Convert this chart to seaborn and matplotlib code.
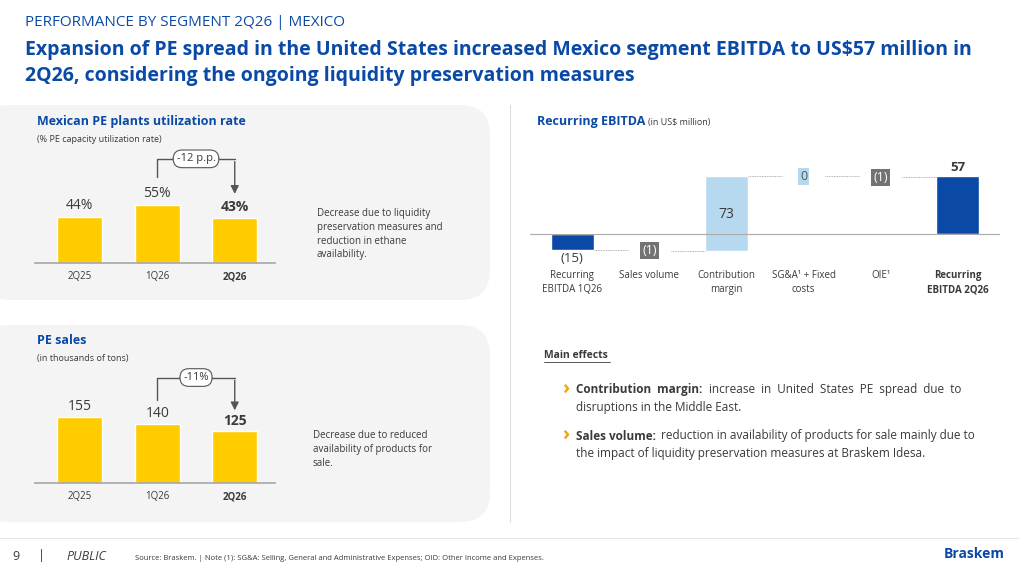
import matplotlib
matplotlib.use("Agg")
import matplotlib.pyplot as plt
import seaborn as sns
import pandas as pd
from matplotlib.patches import FancyBboxPatch

util_periods = ["2Q25", "1Q26", "2Q26"]
util_values = [44, 55, 43]
sales_periods = ["2Q25", "1Q26", "2Q26"]
sales_values = [155, 140, 125]
wf_labels = ["Recurring\nEBITDA 1Q26", "Sales volume", "Contribution\nmargin", "SG&A¹ + Fixed\ncosts", "OIE¹", "Recurring\nEBITDA 2Q26"]
wf_values = [-15, -1, 73, 0, -1, 57]

sns.set_theme(style="white")
plt.rcParams['font.family'] = ['Open Sans', 'DejaVu Sans']
W, H = 1019, 573
fig = plt.figure(figsize=(W/100, H/100), dpi=100)
fig.patch.set_facecolor("white")

def ax_px(x0, y0, x1, y1):
    return fig.add_axes([x0/W, 1-y1/H, (x1-x0)/W, (y1-y0)/H])

bg = fig.add_axes([0, 0, 1, 1]); bg.set_xlim(0, W); bg.set_ylim(H, 0); bg.axis("off")
for (y0, y1) in [(105, 300), (325, 522)]:
    bg.add_patch(FancyBboxPatch((-20, y0), 510, y1-y0, boxstyle="round,pad=0,rounding_size=30",
                                fc="#f4f4f4", ec="none"))
bg.plot([510, 510], [105, 522], color="#dddddd", lw=0.8)
bg.plot([0, W], [538, 538], color="#e0e0e0", lw=0.6)

BLUE = "#0a4aa6"; TXT = "#3a3a3a"
bg.text(25, 22, "PERFORMANCE BY SEGMENT 2Q26 | MEXICO", fontsize=11, color=BLUE, va="center")
bg.text(25, 50, "Expansion of PE spread in the United States increased Mexico segment EBITDA to US$57 million in", fontsize=14, color=BLUE, weight="bold", va="center")
bg.text(25, 76, "2Q26, considering the ongoing liquidity preservation measures", fontsize=14, color=BLUE, weight="bold", va="center")

bg.text(37, 121, "Mexican PE plants utilization rate", fontsize=9, color=BLUE, weight="bold", va="center")
bg.text(37, 139, "(% PE capacity utilization rate)", fontsize=6.5, color=TXT, va="center")
bg.text(317, 208, "Decrease due to liquidity\npreservation measures and\nreduction in ethane\navailability.", fontsize=7, color=TXT, va="top", linespacing=1.35)
bg.text(37, 341, "PE sales", fontsize=9, color=BLUE, weight="bold", va="center")
bg.text(37, 358, "(in thousands of tons)", fontsize=6.5, color=TXT, va="center")
bg.text(313, 430, "Decrease due to reduced\navailability of products for\nsale.", fontsize=7, color=TXT, va="top", linespacing=1.35)

bg.text(537, 121, "Recurring EBITDA", fontsize=9, color=BLUE, weight="bold", va="center")
bg.text(648, 122, "(in US$ million)", fontsize=6.5, color=TXT, va="center")
bg.text(544, 355, "Main effects", fontsize=7.5, color=TXT, weight="bold", va="center")
bg.plot([544, 610], [362, 362], color=TXT, lw=0.6)
bg.text(562, 390, "›", fontsize=14, color="#f5a400", weight="bold", va="center")
bg.text(576, 390, "Contribution  margin:", fontsize=8.5, color=TXT, weight="bold", va="center")
bg.text(709, 390, "increase  in  United  States  PE  spread  due  to", fontsize=8.5, color=TXT, va="center")
bg.text(576, 407, "disruptions in the Middle East.", fontsize=8.5, color=TXT, va="center")
bg.text(562, 436, "›", fontsize=14, color="#f5a400", weight="bold", va="center")
bg.text(576, 436, "Sales volume:", fontsize=8.5, color=TXT, weight="bold", va="center")
bg.text(661, 436, "reduction in availability of products for sale mainly due to", fontsize=8.5, color=TXT, va="center")
bg.text(576, 453, "the impact of liquidity preservation measures at Braskem Idesa.", fontsize=8.5, color=TXT, va="center")

bg.text(12, 556, "9", fontsize=9, color=TXT, va="center")
bg.text(38, 556, "|", fontsize=9, color=TXT, va="center")
bg.text(66, 556, "PUBLIC", fontsize=9, color=TXT, va="center", style="italic")
bg.text(135, 558, "Source: Braskem. | Note (1): SG&A: Selling, General and Administrative Expenses; OID: Other Income and Expenses.", fontsize=5.5, color=TXT, va="center")
bg.text(1005, 554, "Braskem", fontsize=10, color=BLUE, weight="bold", va="center", ha="right")

YEL = "#ffcc00"
def small_bar(ax, cats, vals, ylow, yhigh, fmt, arrow_lbl):
    df = pd.DataFrame({"p": cats, "v": vals})
    sns.barplot(data=df, x="p", y="v", ax=ax, color=YEL, width=0.58, saturation=1)
    ax.set_ylim(ylow, yhigh)
    ax.set_xlim(-0.58, 2.52)
    ax.set_facecolor("none")
    for s in ["top", "right", "left"]:
        ax.spines[s].set_visible(False)
    ax.spines["bottom"].set_color("#aaaaaa")
    ax.set_xlabel(""); ax.set_ylabel(""); ax.set_yticks([])
    ax.tick_params(axis="x", length=0, labelsize=7, colors=TXT, pad=6)
    for i, lab in enumerate(ax.get_xticklabels()):
        if i == 2: lab.set_fontweight("bold")
    for i, v in enumerate(vals):
        ax.text(i, v + (yhigh-ylow)*0.03, fmt(v), ha="center", va="bottom", fontsize=10,
                color=TXT, weight="bold" if i == 2 else "normal")
    top = max(vals) + (yhigh-ylow)*0.35
    ax.plot([1, 1, 2, 2], [max(vals[1], vals[2]) + (yhigh-ylow)*0.21, top, top, top], color="#555555", lw=1)
    ax.annotate("", xy=(2, vals[2] + (yhigh-ylow)*0.16), xytext=(2, top),
                arrowprops=dict(arrowstyle="-|>", color="#555555", lw=1))
    ax.text(1.5, top, arrow_lbl, ha="center", va="center", fontsize=8, color=TXT,
            bbox=dict(boxstyle="round,pad=0.3,rounding_size=0.8", fc="white", ec="#555555", lw=0.8))

ax1 = ax_px(35, 130, 275, 263)
small_bar(ax1, util_periods, util_values, 0, 127, lambda v: f"{v}%", "-12 p.p.")
ax2 = ax_px(35, 370, 275, 483)
small_bar(ax2, sales_periods, sales_values, 15, 255, lambda v: f"{v}", "-11%")

# waterfall
ax3 = ax_px(530, 150, 1000, 263)
bottoms, heights = [], []
cum = 0
for i, v in enumerate(wf_values):
    if i == 0 or i == len(wf_values)-1:
        bottoms.append(0); heights.append(v); cum = v if i == 0 else cum
    else:
        bottoms.append(cum); heights.append(v); cum += v
colors = [BLUE, "#737373", "#b7d9f0", "#b7d9f0", "#737373", BLUE]
x = list(range(len(wf_values)))
ax3.bar(x, heights, bottom=bottoms, color=colors, width=0.55)
ax3.set_xlim(-0.55, 5.55)
ax3.set_ylim(-28, 83)
ax3.axhline(0, color="#aaaaaa", lw=0.8)
ends = [b+h for b, h in zip(bottoms, heights)]
for i in range(len(x)-1):
    ax3.plot([i+0.275, i+1-0.275], [ends[i], ends[i]], color="#999999", lw=0.6, ls=(0, (1, 1)))
ax3.axis("off")
def lab(v): return f"({abs(v)})" if v < 0 else f"{v}"
ax3.text(0, -17, lab(wf_values[0]), ha="center", va="top", fontsize=9.5, color=TXT)
ax3.text(1, ends[1], lab(wf_values[1]), ha="center", va="center", fontsize=9, color="white",
         bbox=dict(boxstyle="square,pad=0.15", fc="#737373", ec="none"))
ax3.text(2, 20, lab(wf_values[2]), ha="center", va="center", fontsize=10, color=TXT)
ax3.text(3, ends[3], lab(wf_values[3]), ha="center", va="center", fontsize=9, color="#555555",
         bbox=dict(boxstyle="square,pad=0.15", fc="#b7d9f0", ec="none"))
ax3.text(4, ends[4], lab(wf_values[4]), ha="center", va="center", fontsize=9, color="white",
         bbox=dict(boxstyle="square,pad=0.15", fc="#737373", ec="none"))
ax3.text(5, 59, lab(wf_values[5]), ha="center", va="bottom", fontsize=9.5, color=TXT, weight="bold")
for i, l in enumerate(wf_labels):
    ax3.text(i, -35, l, ha="center", va="top", fontsize=7, color=TXT,
             weight="bold" if i == 5 else "normal", linespacing=1.4, clip_on=False)

fig.savefig("out.png", dpi=100)
